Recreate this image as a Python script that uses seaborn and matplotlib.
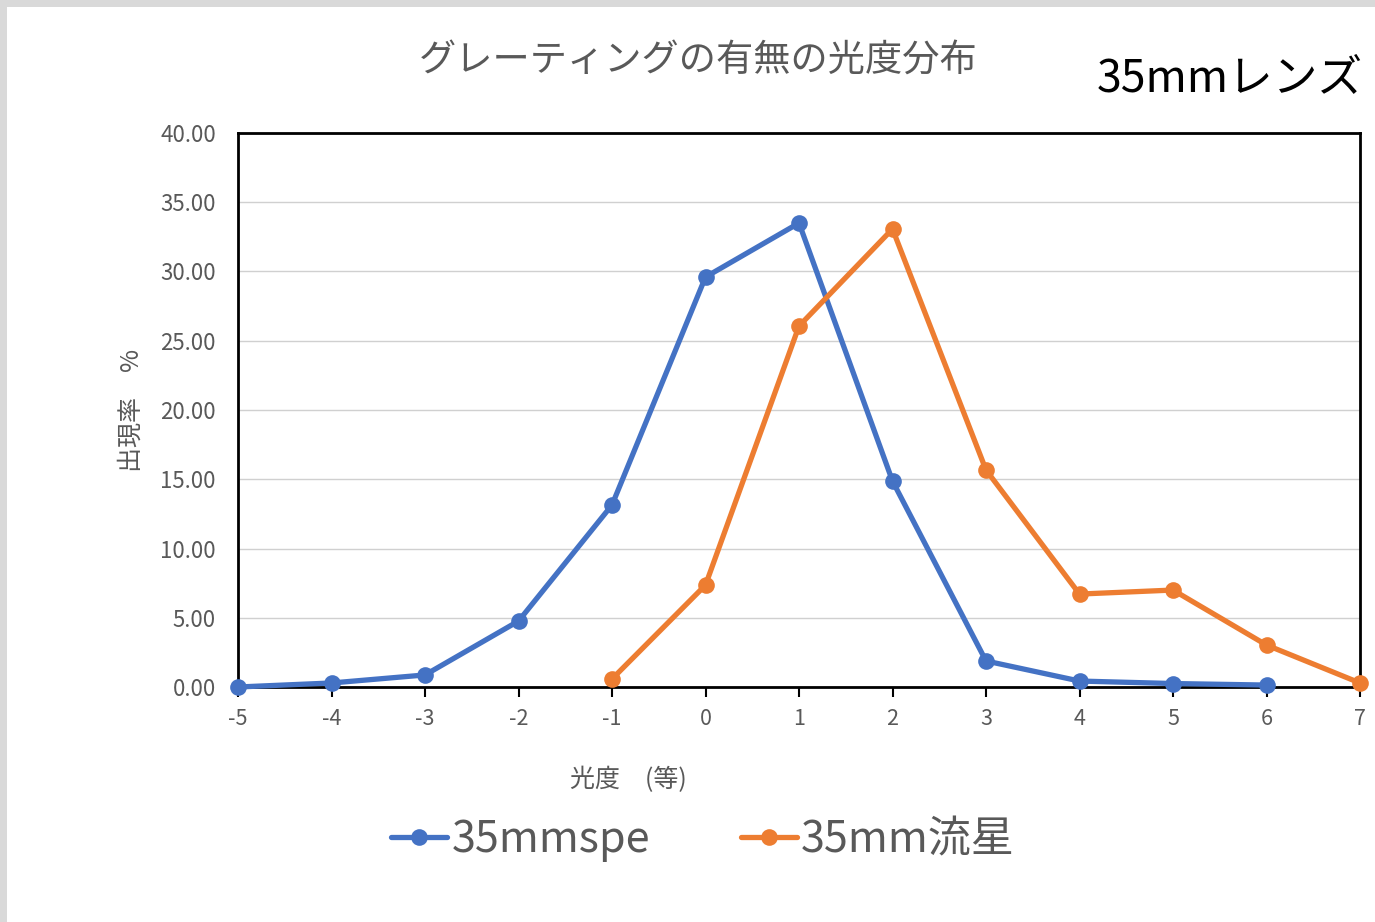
import matplotlib
matplotlib.use("Agg")
import matplotlib.pyplot as plt
from matplotlib.patches import Rectangle
import seaborn as sns
import pandas as pd

# Magnitude distribution, with and without grating
spe_mag = [-5, -4, -3, -2, -1, 0, 1, 2, 3, 4, 5, 6]
spe_pct = [0.0, 0.29, 0.87, 4.76, 13.14, 29.6, 33.5, 14.87, 1.88, 0.43, 0.25, 0.14]

meteor_mag = [-1, 0, 1, 2, 3, 4, 5, 6, 7]
meteor_pct = [0.58, 7.36, 26.06, 33.07, 15.67, 6.71, 7.0, 3.03, 0.29]

series_names = ["35mmspe", "35mm流星"]
series_colors = ["#4472C4", "#ED7D31"]
x_ticks = list(range(-5, 8))
y_ticks = [0, 5, 10, 15, 20, 25, 30, 35, 40]

sns.set_theme(style="white")
plt.rcParams["font.family"] = ["Noto Sans CJK JP", "DejaVu Sans"]

fig = plt.figure(figsize=(13.75, 9.22), dpi=100)
fig.patch.set_facecolor("white")
# light frame along the top and left edges
fig.patches.append(Rectangle((0, 1 - 7 / 922), 1, 7 / 922, transform=fig.transFigure,
                             facecolor="#D9D9D9", edgecolor="none", zorder=0))
fig.patches.append(Rectangle((0, 0), 7 / 1375, 1, transform=fig.transFigure,
                             facecolor="#D9D9D9", edgecolor="none", zorder=0))

ax = fig.add_axes([238 / 1375, 1 - 687 / 922, (1360 - 238) / 1375, (687 - 133) / 922])

df_spe = pd.DataFrame({"mag": spe_mag, "pct": spe_pct})
df_met = pd.DataFrame({"mag": meteor_mag, "pct": meteor_pct})

for df, name, col in [(df_spe, series_names[0], series_colors[0]),
                      (df_met, series_names[1], series_colors[1])]:
    sns.lineplot(data=df, x="mag", y="pct", ax=ax, color=col, linewidth=3.8,
                 marker="o", markersize=12, markeredgewidth=0, label=name,
                 clip_on=False, zorder=5)

ax.set_xlim(-5, 7)
ax.set_ylim(0, 40)
ax.set_xticks(x_ticks)
ax.set_xticklabels([str(t) for t in x_ticks])
ax.set_yticks(y_ticks)
ax.set_yticklabels([f"{t:.2f}" for t in y_ticks])

ax.grid(axis="y", color="#D0D0D0", linewidth=1.0)
ax.grid(axis="x", visible=False)
ax.set_axisbelow(True)
for side in ["left", "right", "top", "bottom"]:
    ax.spines[side].set_visible(True)
    ax.spines[side].set_color("black")
    ax.spines[side].set_linewidth(2.0)

ax.tick_params(axis="x", which="major", bottom=True, length=7, width=1.5,
               color="black", pad=8, labelsize=15.5, labelcolor="#595959")
ax.tick_params(axis="y", left=False, pad=10, labelsize=16, labelcolor="#595959")

ax.set_xlabel("光度　(等)", fontsize=18, color="#595959")
ax.xaxis.set_label_coords((628 - 238) / (1360 - 238), -(767 - 687) / (687 - 133))
ax.set_ylabel("出現率　%", fontsize=18, color="#595959")
ax.yaxis.set_label_coords(-(238 - 145) / (1360 - 238), (687 - 410) / (687 - 133))

fig.text(698 / 1375, 1 - 60 / 922, "グレーティングの有無の光度分布", ha="center", va="center",
         fontsize=26.8, color="#595959")
fig.text(1363 / 1375, 1 - 78 / 922, "35mmレンズ", ha="right", va="center",
         fontsize=32.2, color="black")

leg = ax.legend(loc="center", bbox_to_anchor=(703 / 1375, 1 - 840 / 922),
                bbox_transform=fig.transFigure, ncol=2, frameon=False,
                fontsize=31, handlelength=1.3, columnspacing=2.1, handletextpad=0.1)
for txt in leg.get_texts():
    txt.set_color("#595959")

fig.savefig("out.png", dpi=100)
